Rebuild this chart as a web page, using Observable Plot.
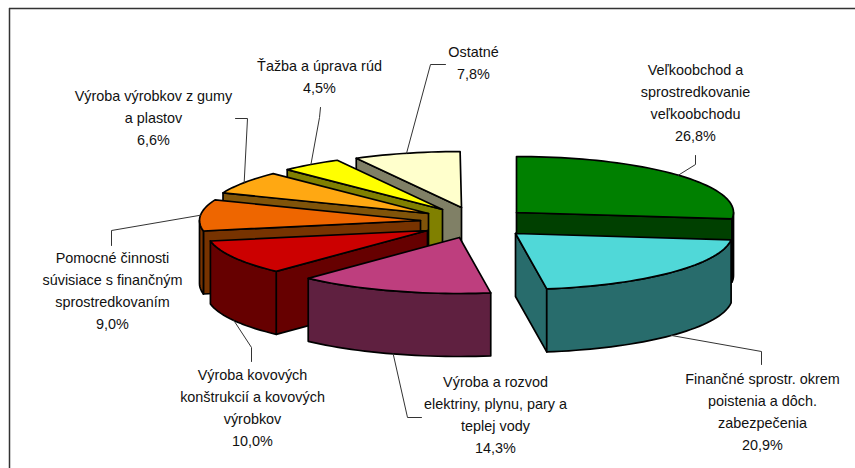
<!DOCTYPE html>
<html>
<head>
<meta charset="utf-8">
<style>
html,body{margin:0;padding:0;background:#fff;}
svg{display:block;}
</style>
<script src="https://cdn.jsdelivr.net/npm/d3@7"></script>
<script src="https://cdn.jsdelivr.net/npm/@observablehq/plot@0.6"></script>
</head>
<body>
<div id="chart"></div>
<script>
// Data, clockwise from 12 o'clock
const categories = [
  "Veľkoobchod a\nsprostredkovanie\nveľkoobchodu",
  "Finančné sprostr. okrem\npoistenia a dôch.\nzabezpečenia",
  "Výroba a rozvod\nelektriny, plynu, pary a\nteplej vody",
  "Výroba kovových\nkonštrukcií a kovových\nvýrobkov",
  "Pomocné činnosti\nsúvisiace s finančným\nsprostredkovaním",
  "Výroba výrobkov z gumy\na plastov",
  "Ťažba a úprava rúd",
  "Ostatné"
];
const values = [26.8, 20.9, 14.3, 10.0, 9.0, 6.6, 4.5, 7.8];

// Styles
const topColors  = ["#008000","#50D8D8","#BE3E7E","#CC0000","#EE6600","#FFA812","#FFFF00","#FFFFCC"];
const sideColors = ["#004000","#286C6C","#5F2040","#660000","#773300","#805409","#808000","#808066"];

// Layout: where each exploded slice's hub sits, and where each label sits
const hubX = [516, 515, 459, 427, 420, 428, 442, 461];
const hubY = [212, 233, 237, 230, 220, 213, 209, 207];
const labelX = [695, 762, 495, 252, 112, 153, 319, 473];
const labelY = [100, 409, 412, 405, 288, 115, 74, 60];
// Elbows of the leader lines (label end, then knee)
const leaderEndX = [695, 761, 421, 251, 111, 235, 320, 445];
const leaderEndY = [155, 364, 417, 361, 245, 118, 107, 64];
const kneeX = [695, 761, 407, 251, 111, 247, 319, 430];
const kneeY = [164, 351, 417, 347, 230, 118, 117, 64];
const rxRight = 217, rxLeft = 221, ry = 56, depth = 63;
const drawOrder = [7, 6, 5, 4, 3, 2, 0, 1];

const total = 100;
const rad = d => d * Math.PI / 180;
const cum = d3.cumsum(values);
const slices = values.map((v, i) => {
  const a = (i ? cum[i - 1] : 0) / total * 360;
  const b = cum[i] / total * 360;
  return {i, a, b, mid: (a + b) / 2, cx: hubX[i], cy: hubY[i]};
});
const rim = (s, t, dz = 0) => {
  const sn = Math.sin(rad(t));
  return [s.cx + (sn > 0 ? rxRight : rxLeft) * sn, s.cy - ry * Math.cos(rad(t)) + dz];
};
const arc = (s, a, b, dz = 0) => {
  const n = Math.max(2, Math.ceil((b - a) / 2));
  return d3.range(n + 1).map(k => rim(s, a + (b - a) * k / n, dz));
};
const closed = pts => [...pts, pts[0]];

const marks = [];
const poly = (pts, fill) => marks.push(Plot.line(closed(pts), {
  x: d => d[0], y: d => d[1], fill, stroke: "#000", strokeWidth: 1.7, strokeLinejoin: "round"
}));

for (const o of drawOrder) {
  const s = slices[o];
  const hub = [s.cx, s.cy], hubLow = [s.cx, s.cy + depth];
  // cut faces turned towards the viewer
  if (Math.sin(rad(s.b)) > 0.001) poly([hub, rim(s, s.b), rim(s, s.b, depth), hubLow], sideColors[o]);
  if (Math.sin(rad(s.a)) < -0.001) poly([hub, rim(s, s.a), rim(s, s.a, depth), hubLow], sideColors[o]);
  // outer wall on the front half
  const fa = Math.max(s.a, 90), fb = Math.min(s.b, 270);
  if (fb > fa) poly([...arc(s, fa, fb), ...arc(s, fa, fb, depth).reverse()], sideColors[o]);
  // top face
  poly([hub, ...arc(s, s.a, s.b)], topColors[o]);
}

// Leader lines run from the label to the middle of the slice's rim
slices.forEach((s, i) => {
  const front = Math.cos(rad(s.mid)) < 0;
  marks.push(Plot.line(
    [[leaderEndX[i], leaderEndY[i]], [kneeX[i], kneeY[i]], rim(s, s.mid, front ? depth : 0)],
    {x: d => d[0], y: d => d[1], stroke: "#333", strokeWidth: 1}
  ));
});

// Chart frame: top and left edges
marks.push(Plot.ruleY([8], {x1: 9, x2: 855, stroke: "#333", strokeWidth: 1.5}));
marks.push(Plot.ruleX([9], {y1: 8, y2: 468, stroke: "#333", strokeWidth: 1.5}));

// Labels
const fmt = v => v.toFixed(1).replace(".", ",") + "%";
marks.push(Plot.text(categories.map((c, i) => ({t: c + "\n" + fmt(values[i]), x: labelX[i], y: labelY[i]})), {
  x: "x", y: "y", text: "t", textAnchor: "middle", lineAnchor: "middle",
  lineHeight: 1.53, fontSize: 14.4, fontFamily: "Liberation Sans", fill: "#111"
}));

const chart = Plot.plot({
  width: 855, height: 468, margin: 0,
  x: {domain: [0, 855], range: [0, 855], axis: null},
  y: {domain: [0, 468], range: [0, 468], axis: null},
  style: {background: "#fff"},
  marks
});
document.getElementById("chart").appendChild(chart);
</script>
</body>
</html>
